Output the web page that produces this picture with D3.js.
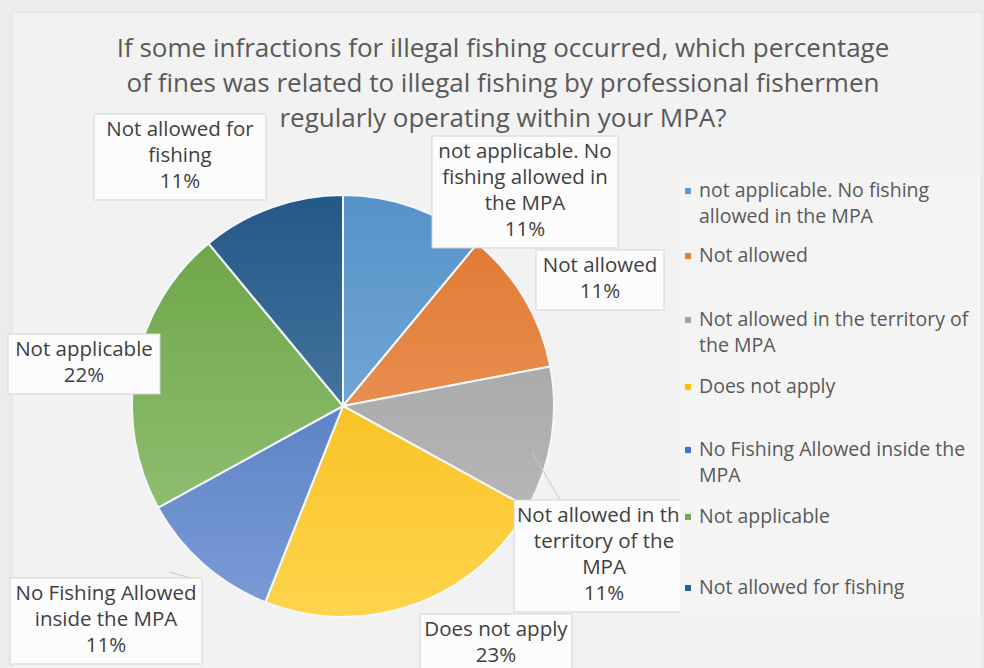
<!DOCTYPE html>
<html>
<head>
<meta charset="utf-8">
<script src="https://cdnjs.cloudflare.com/ajax/libs/d3/7.8.5/d3.min.js"></script>
<style>
  body { margin: 0; background: #ececec; }
  svg { display: block; font-family: "Open Sans", Lato, sans-serif; }
</style>
</head>
<body>
<script>
// slice categories and percentages (clockwise from 12 o'clock)
const categories = [
  "not applicable. No fishing allowed in the MPA",
  "Not allowed",
  "Not allowed in the territory of the MPA",
  "Does not apply",
  "No Fishing Allowed inside the MPA",
  "Not applicable",
  "Not allowed for fishing"
];
const values = [11, 11, 11, 23, 11, 22, 11];
const colors = ["#5B9BD5", "#ED7D31", "#A5A5A5", "#FFC000", "#4472C4", "#70AD47", "#255E91"];

// data label text lines, as wrapped in the chart
const labelLines = [
  ["not applicable. No", "fishing allowed in", "the MPA"],
  ["Not allowed"],
  ["Not allowed in the", "territory of the", "MPA"],
  ["Does not apply"],
  ["No Fishing Allowed", "inside the MPA"],
  ["Not applicable"],
  ["Not allowed for", "fishing"]
];
// label box centres / widths
const labelBoxes = [
  { x: 525, y: 136, w: 186 },
  { x: 600, y: 250, w: 128 },
  { x: 604, y: 500, w: 180 },
  { x: 496, y: 614, w: 152 },
  { x: 106, y: 578, w: 192 },
  { x: 84, y: 334, w: 152 },
  { x: 180, y: 114, w: 172 }
];
const legendLines = [
  ["not applicable. No fishing", "allowed in the MPA"],
  ["Not allowed"],
  ["Not allowed in the territory of", "the MPA"],
  ["Does not apply"],
  ["No Fishing Allowed inside the", "MPA"],
  ["Not applicable"],
  ["Not allowed for fishing"]
];
const legendY = [197, 262, 326, 393, 456, 523, 594];
const titleLines = [
  "If some infractions for illegal fishing occurred, which percentage",
  "of fines was related to illegal fishing by professional fishermen",
  "regularly operating within your MPA?"
];

const W = 984, H = 668;
const cx = 343, cy = 406, r = 211;

const svg = d3.select("body").append("svg")
  .attr("width", W).attr("height", H);

svg.append("rect").attr("width", W).attr("height", H).attr("fill", "#ececec");
svg.append("rect").attr("x", 12).attr("y", 12).attr("width", W - 14).attr("height", H - 10)
  .attr("fill", "#f2f2f2").attr("stroke", "#e2e2e2");

// gradients for slices (in pie group coordinates)
const defs = svg.append("defs");
colors.forEach((c, i) => {
  const g = defs.append("linearGradient").attr("id", "grad" + i)
    .attr("gradientUnits", "userSpaceOnUse")
    .attr("x1", 0).attr("y1", -r).attr("x2", 0).attr("y2", r);
  g.append("stop").attr("offset", "0%").attr("stop-color", d3.interpolateRgb(c, "#000")(0.06));
  g.append("stop").attr("offset", "100%").attr("stop-color", d3.interpolateRgb(c, "#fff")(0.3));
});

// title
svg.append("g").selectAll("text").data(titleLines).enter().append("text")
  .attr("x", 503).attr("y", (d, i) => 57 + i * 35)
  .attr("text-anchor", "middle")
  .attr("font-size", 26).attr("fill", "#595959")
  .text(d => d);

const pie = d3.pie().sort(null).value(d => d);
const arcs = pie(values);
const arc = d3.arc().innerRadius(0).outerRadius(r);

const pieG = svg.append("g").attr("transform", `translate(${cx},${cy})`);
pieG.selectAll("path").data(arcs).enter().append("path")
  .attr("d", arc)
  .attr("fill", (d, i) => `url(#grad${i})`)
  .attr("stroke", "#f4f8fc").attr("stroke-width", 2);

// leader lines
const leaders = [
  [[532, 452], [560, 500]],
  [[170, 572], [190, 578]]
];
svg.append("g").selectAll("path").data(leaders).enter().append("path")
  .attr("d", d => d3.line()(d))
  .attr("stroke", "#c8c8c8").attr("fill", "none");

// data labels
const lineH = 26;
const lab = svg.append("g").selectAll("g").data(arcs).enter().append("g");
lab.append("rect")
  .attr("x", (d, i) => labelBoxes[i].x - labelBoxes[i].w / 2)
  .attr("y", (d, i) => labelBoxes[i].y)
  .attr("width", (d, i) => labelBoxes[i].w)
  .attr("height", (d, i) => (labelLines[i].length + 1) * lineH + 8)
  .attr("fill", "#fcfcfc").attr("stroke", "#d4d4d4");
lab.each(function(d, i) {
  const lines = labelLines[i].concat([values[i] + "%"]);
  d3.select(this).selectAll("text").data(lines).enter().append("text")
    .attr("x", labelBoxes[i].x)
    .attr("y", (t, k) => labelBoxes[i].y + 22 + k * lineH)
    .attr("text-anchor", "middle")
    .attr("font-size", 20.5).attr("fill", "#404040")
    .text(t => t);
});

// legend area sits on top of the labels
svg.append("rect").attr("x", 680).attr("y", 176).attr("width", 300).attr("height", 440)
  .attr("fill", "#f4f4f4");
const leg = svg.append("g").selectAll("g").data(categories).enter().append("g")
  .attr("transform", (d, i) => `translate(685,${legendY[i]})`);
leg.append("rect").attr("x", 0).attr("y", -9).attr("width", 6).attr("height", 6)
  .attr("fill", (d, i) => colors[i]);
leg.each(function(d, i) {
  d3.select(this).selectAll("text").data(legendLines[i]).enter().append("text")
    .attr("x", 14).attr("y", (t, k) => k * 26)
    .attr("font-size", 19.5).attr("fill", "#595959")
    .text(t => t);
});
</script>
</body>
</html>
